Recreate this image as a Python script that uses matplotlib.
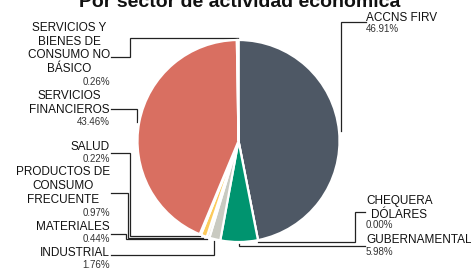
import numpy as np
import matplotlib
matplotlib.use("Agg")
from matplotlib import pyplot as plt

W, H = 471, 269
DPI = 100

title = "Por sector de actividad económica"

sectors = [
    "ACCNS FIRV",
    "CHEQUERA\nDÓLARES",
    "GUBERNAMENTAL",
    "INDUSTRIAL",
    "MATERIALES",
    "PRODUCTOS DE\nCONSUMO\nFRECUENTE",
    "SALUD",
    "SERVICIOS\nFINANCIEROS",
    "SERVICIOS Y\nBIENES DE\nCONSUMO NO\nBÁSICO",
]
shares = [46.91, 0.00, 5.98, 1.76, 0.44, 0.97, 0.22, 43.46, 0.26]
colors = [
    "#4e5865", "#8fa3b8", "#00946f", "#c9cac1", "#e9dfc0",
    "#fccb5c", "#6e5b3c", "#d96f61", "#f3a53a",
]

# label layout in pixels: (text x, last-line baseline y, side, leader start, elbow x)
layout = [
    (366, 20.7, "right", (366, 22), None),
    (366, 217.7, "right", (365, 212), 355),
    (366, 243.3, "right", (365, 246), None),
    (110, 256.0, "left", (111, 255), None),
    (110, 230.0, "left", (111, 234), 126),
    (110, 203.0, "left", (111, 193), 128),
    (110, 150.0, "left", (111, 153), 130),
    (110, 112.7, "left", (111, 109), None),
    (110, 72.3, "left", (111, 57), 130),
]
pct_offset = [11.6, 10.6, 11.7, 12.0, 12.0, 13.0, 12.0, 12.3, 13.0]

CX, CY, R = 238.5, 141.0, 101.0


def Y(py):
    return H - py


fig = plt.figure(figsize=(W / DPI, H / DPI), dpi=DPI, facecolor="white")
ax = fig.add_axes([0, 0, 1, 1])

wedges, _ = ax.pie(
    shares,
    colors=colors,
    startangle=90,
    counterclock=False,
    center=(CX, Y(CY)),
    radius=R,
    wedgeprops=dict(edgecolor="white", linewidth=1.6),
)
ax.set_xlim(0, W)
ax.set_ylim(0, H)
ax.set_aspect("auto")
ax.axis("off")

font = "Liberation Sans"
for w, name, val, (tx, ty, side, (lx, ly), ex), off in zip(
    wedges, sectors, shares, layout, pct_offset
):
    ha = "left" if side == "right" else "right"
    ax.text(tx, Y(ty), name, ha=ha, va="baseline", multialignment="center",
            fontsize=8.5, family=font, color="#111111", linespacing=1.2)
    ax.text(tx, Y(ty + off), f"{val:.2f}%", ha=ha, va="baseline",
            fontsize=7, family=font, color="#333333")

    mid = np.deg2rad((w.theta1 + w.theta2) / 2)
    axp = CX + R * 1.02 * np.cos(mid)
    ayp = CY - R * 1.02 * np.sin(mid)
    if ex is None:
        xs = [lx, axp, axp]
        ys = [ly, ly, ayp]
    else:
        xs = [lx, ex, ex, axp]
        ys = [ly, ly, ayp, ayp]
    ax.plot(xs, [Y(v) for v in ys], color="#222222", lw=0.9,
            solid_joinstyle="miter", zorder=0)

fig.text(240 / W, Y(7) / H, title, ha="center", va="baseline",
         fontsize=14, fontweight="bold", family=font, color="#111111")

fig.savefig("out.png", dpi=DPI)
